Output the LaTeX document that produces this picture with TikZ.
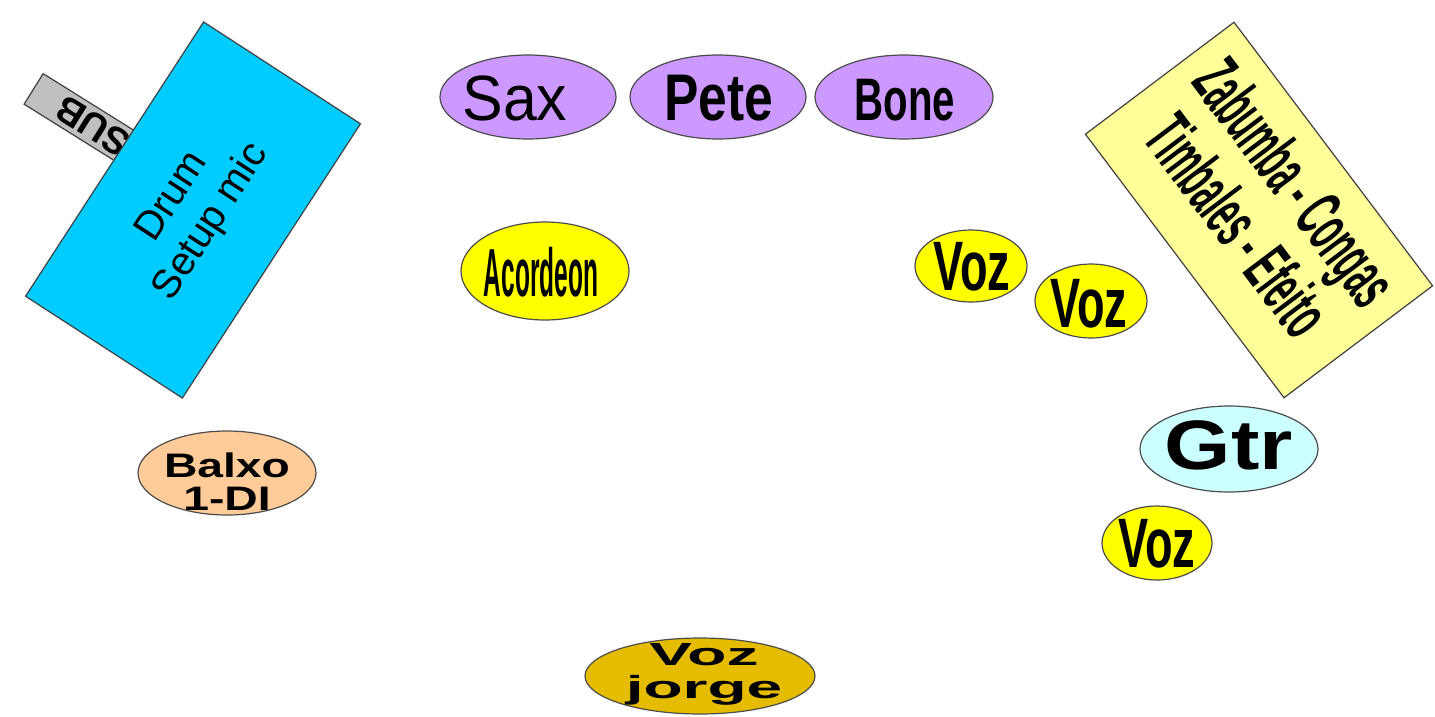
\documentclass[tikz,border=0pt]{standalone}
\usepackage{fontspec}
\setmainfont{Liberation Sans}
\usepackage{graphicx}
\usetikzlibrary{shapes.geometric,positioning}

\definecolor{drumcyan}{RGB}{0,204,255}
\definecolor{subgray}{RGB}{192,192,192}
\definecolor{percyellow}{RGB}{255,255,153}
\definecolor{hornpurple}{RGB}{204,153,255}
\definecolor{vozyellow}{RGB}{255,255,0}
\definecolor{gtrcyan}{RGB}{204,255,255}
\definecolor{baixopeach}{RGB}{255,204,153}
\definecolor{leadgold}{RGB}{230,188,0}

% one line of text: xscale, size, text
\newcommand{\stagename}[3]{\scalebox{#1}[1]{\fontsize{#2}{#2}\selectfont #3}}
% two lines of text: xscale, size, line skip, text
\newcommand{\stagepair}[4]{\scalebox{#1}[1]{\fontsize{#2}{#3}\selectfont\begin{tabular}{@{}c@{}}#4\end{tabular}}}

\begin{document}
\begin{tikzpicture}[x=1pt, y=-1pt,
		riser/.style={draw=black!75, line width=1.2pt},
		wedge/.style={draw=black!70, line width=1.2pt},
		tag/.style={inner sep=0pt, align=center}]
	\useasboundingbox (0,0) rectangle (1435,716);

	% SUB under the drum riser
	\node[riser, fill=subgray, rotate=148, minimum width=140pt, minimum height=36pt,
		font=\fontsize{38}{38}\selectfont\bfseries] (sub) at (93,126) {SUB};
	% Drum riser
	\node[riser, fill=drumcyan, rotate=57, minimum width=327pt, minimum height=187pt] (drum) at (193,210)
		{\stagepair{1}{40}{46}{Drum\\Setup mic}};
	% Percussion riser
	\node[riser, fill=percyellow, rotate=-53, minimum width=330pt, minimum height=186pt] (perc) at (1259,210)
		{\stagepair{0.455}{70}{72}{\bfseries Zabumba - Congas\\\bfseries Timbales - Efeito}};

	% Horns
	\draw[wedge, fill=hornpurple] (528,97) ellipse [x radius=88pt, y radius=42pt];
	\draw[wedge, fill=hornpurple] (718,97) ellipse [x radius=88pt, y radius=42pt];
	\draw[wedge, fill=hornpurple] (904,97) ellipse [x radius=89pt, y radius=42pt];
	\node[tag] (sax) at (515,98) {\stagename{0.95}{64}{Sax}};
	\node[tag] (pete) at (719,98) {\stagename{0.78}{66}{\bfseries Pete}};
	\node[tag] (bone) at (905,100) {\stagename{0.67}{60}{\bfseries Bone}};

	% Accordion
	\draw[wedge, fill=vozyellow] (545,271) ellipse [x radius=84pt, y radius=49pt];
	\node[tag] (acordeon) at (541,272) {\stagename{0.36}{68}{\bfseries Acordeon}};

	% Vocals
	\draw[wedge, fill=vozyellow] (971,266) ellipse [x radius=56pt, y radius=36pt];
	\draw[wedge, fill=vozyellow] (1091,301) ellipse [x radius=56pt, y radius=37pt];
	\draw[wedge, fill=vozyellow] (1157,543) ellipse [x radius=55pt, y radius=37pt];
	\node[tag] (voza) at (972,267) {\stagename{0.645}{70}{\bfseries Voz}};
	\node[tag] (vozb) at (1089,304) {\stagename{0.645}{70}{\bfseries Voz}};
	\node[tag] (vozc) at (1157,544) {\stagename{0.645}{70}{\bfseries Voz}};

	% Guitar
	\draw[wedge, fill=gtrcyan] (1229,449) ellipse [x radius=89pt, y radius=43pt];
	\node[tag] (gtr) at (1229,445) {\stagename{1.22}{70}{\bfseries Gtr}};

	% Bass
	\draw[wedge, fill=baixopeach] (227,473) ellipse [x radius=89pt, y radius=42pt];
	\node[tag] (baixo) at (227,486) {\stagepair{1.36}{34}{29}{\bfseries Balxo\\\bfseries 1-DI}};

	% Lead vocal
	\draw[wedge, fill=leadgold] (700,676) ellipse [x radius=115pt, y radius=38pt];
	\node[tag] (jorge) at (704,675) {\stagepair{2}{32}{33}{\bfseries Voz\\\bfseries jorge}};
\end{tikzpicture}
\end{document}
